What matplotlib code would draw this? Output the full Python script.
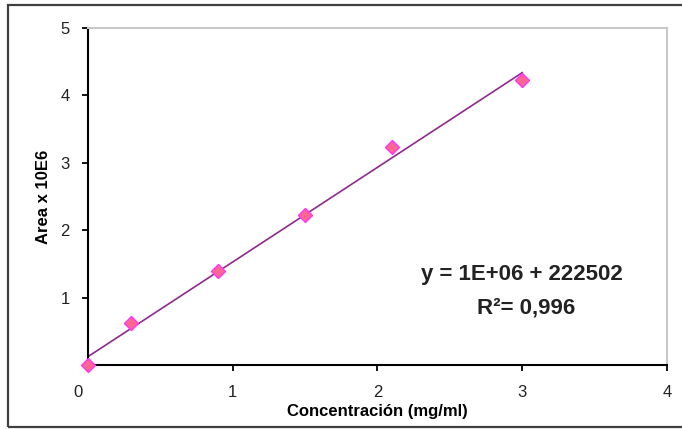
import matplotlib
matplotlib.use('Agg')
import matplotlib.pyplot as plt
import matplotlib.transforms as mtransforms
import numpy as np
from matplotlib.patches import Rectangle

plt.rcParams['font.family'] = ['Liberation Sans', 'DejaVu Sans']

# calibration points
conc = [0.0, 0.3, 0.9, 1.5, 2.1, 3.0]          # mg/ml
area = [0.0, 0.63, 1.40, 2.22, 3.23, 4.22]     # x 10E6
x_ticks = [0, 1, 2, 3, 4]
y_ticks = [1, 2, 3, 4, 5]
eq_text = "y = 1E+06 + 222502"
r2_text = "R²= 0,996"

fig = plt.figure(figsize=(6.82, 4.29), dpi=100)
ax = fig.add_axes([0.129, 0.149, 0.849, 0.786])

# linear trendline over the data range
slope, intercept = np.polyfit(conc, area, 1)
xl = np.array([min(conc), max(conc)])
ax.plot(xl, slope * xl + intercept, color='#8e2a8e', lw=1.2, zorder=2)

ax.plot(conc, area, linestyle='none', marker='D', markersize=7,
        markerfacecolor='#ff6690', markeredgecolor='#ff33ff',
        markeredgewidth=1.0, zorder=3, clip_on=False)

ax.set_xlim(0, 4)
ax.set_ylim(0, 5)
ax.set_xticks(x_ticks)
ax.set_yticks(y_ticks)
ax.tick_params(direction='out', length=4, width=1.3, colors='black',
               labelsize=12, labelcolor='#222222')
ax.tick_params(axis='x', pad=10)
ax.tick_params(axis='y', pad=9)

for side in ('left', 'bottom'):
    ax.spines[side].set_linewidth(1.5)
    ax.spines[side].set_color('black')
for side in ('top', 'right'):
    ax.spines[side].set_linewidth(1.5)
    ax.spines[side].set_color('#c8c8c8')

# the "0" label sits a little left of the corner
fig.canvas.draw()
lbl0 = ax.get_xticklabels()[0]
lbl0.set_transform(lbl0.get_transform() +
                   mtransforms.ScaledTranslation(-10 / 100, 0, fig.dpi_scale_trans))

ax.set_xlabel('Concentración (mg/ml)', fontsize=12, fontweight='bold', labelpad=3)
ax.set_ylabel('Area x 10E6', fontsize=12, fontweight='bold', labelpad=7)

ax.text(3.0, 1.34, eq_text, fontsize=16, fontweight='bold', ha='center', va='center',
        color='#222222')
ax.text(3.03, 0.85, r2_text, fontsize=16, fontweight='bold', ha='center', va='center',
        color='#222222')

# outer chart frame
fig.patches.append(Rectangle((8 / 682, 2 / 429), 1.0, 422 / 429, transform=fig.transFigure,
                             fill=False, edgecolor='#404040', lw=1.6))

fig.savefig('out.png', dpi=100)
